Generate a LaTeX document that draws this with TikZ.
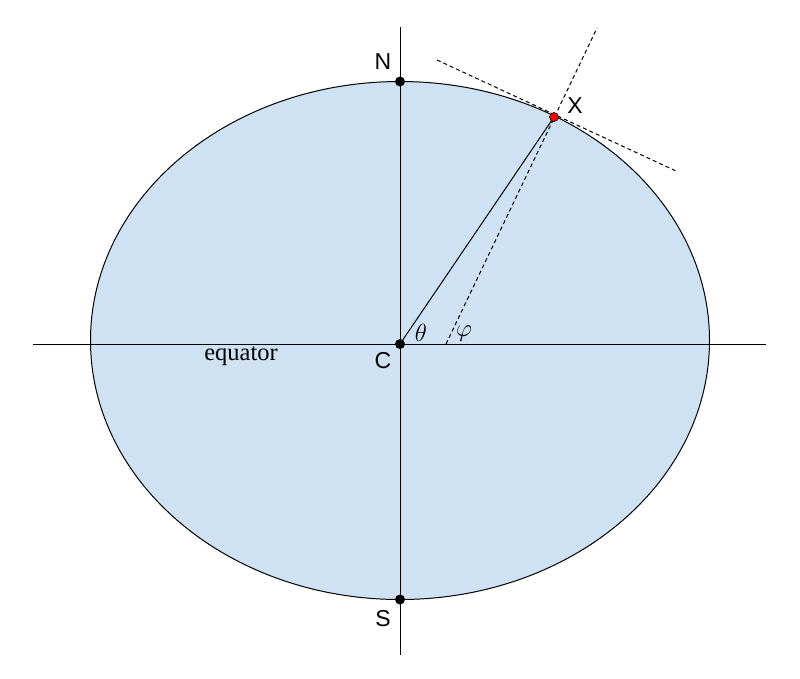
\documentclass[tikz,border=0pt]{standalone}
\usepackage{fontspec}
\setmainfont{Liberation Serif}
\newfontfamily\lsans{Liberation Sans}
\begin{document}
\begin{tikzpicture}[x=1pt,y=-1pt,
  lbl/.style={font=\lsans\fontsize{23}{23}\selectfont, inner sep=0pt},
  mlbl/.style={font=\fontsize{24.5}{24.5}\selectfont, inner sep=0pt},
  mth/.style={font=\fontsize{25}{25}\selectfont, inner sep=0pt},
  dotb/.style={circle, fill=black, minimum size=10pt, inner sep=0pt},
  dotr/.style={circle, fill=red, draw=black, line width=0.6pt, minimum size=9pt, inner sep=0pt},
  ax/.style={line width=1pt},
  dsh/.style={line width=1pt, dash pattern=on 4pt off 3pt}]
\useasboundingbox (0,0) rectangle (800,678);
\fill[fill={rgb,255:red,207;green,226;blue,243}] (400,340.5) ellipse [x radius=309.5, y radius=259];
\draw[line width=1pt] (400,340.5) ellipse [x radius=309.5, y radius=259];
\coordinate (t1) at (437,60);
\coordinate (t2) at (676,171);
\coordinate (n1) at (446,344);
\coordinate (n2) at (597,28);
\coordinate (vtop) at (400,27);
\coordinate (vbot) at (400,655);
\coordinate (hl) at (33,344);
\coordinate (hr) at (766,344);
\draw[ax] (vtop) -- (vbot);
\draw[ax] (hl) -- (hr);
\node[dotb] (C) at (400,344) {};
\node[dotb] (N) at (400,81.5) {};
\node[dotb] (S) at (400,599.5) {};
\draw[dsh] (t1) -- (t2);
\draw[dsh] (n1) -- (n2);
\draw[ax] (C.center) -- (554,117);
\node[dotr] (X) at (554,117) {};
\node[lbl] (Nl) at (383,62) {N};
\node[lbl] (Xl) at (575,106) {X};
\node[lbl] (Cl) at (383,361) {C};
\node[lbl] (Sl) at (383,619) {S};
\node[mlbl] (eq) at (241,356) {equator};
\node[mth] (th) at (421,333) {$\theta$};
\node[mth] (ph) at (464,334) {$\varphi$};
\end{tikzpicture}
\end{document}
